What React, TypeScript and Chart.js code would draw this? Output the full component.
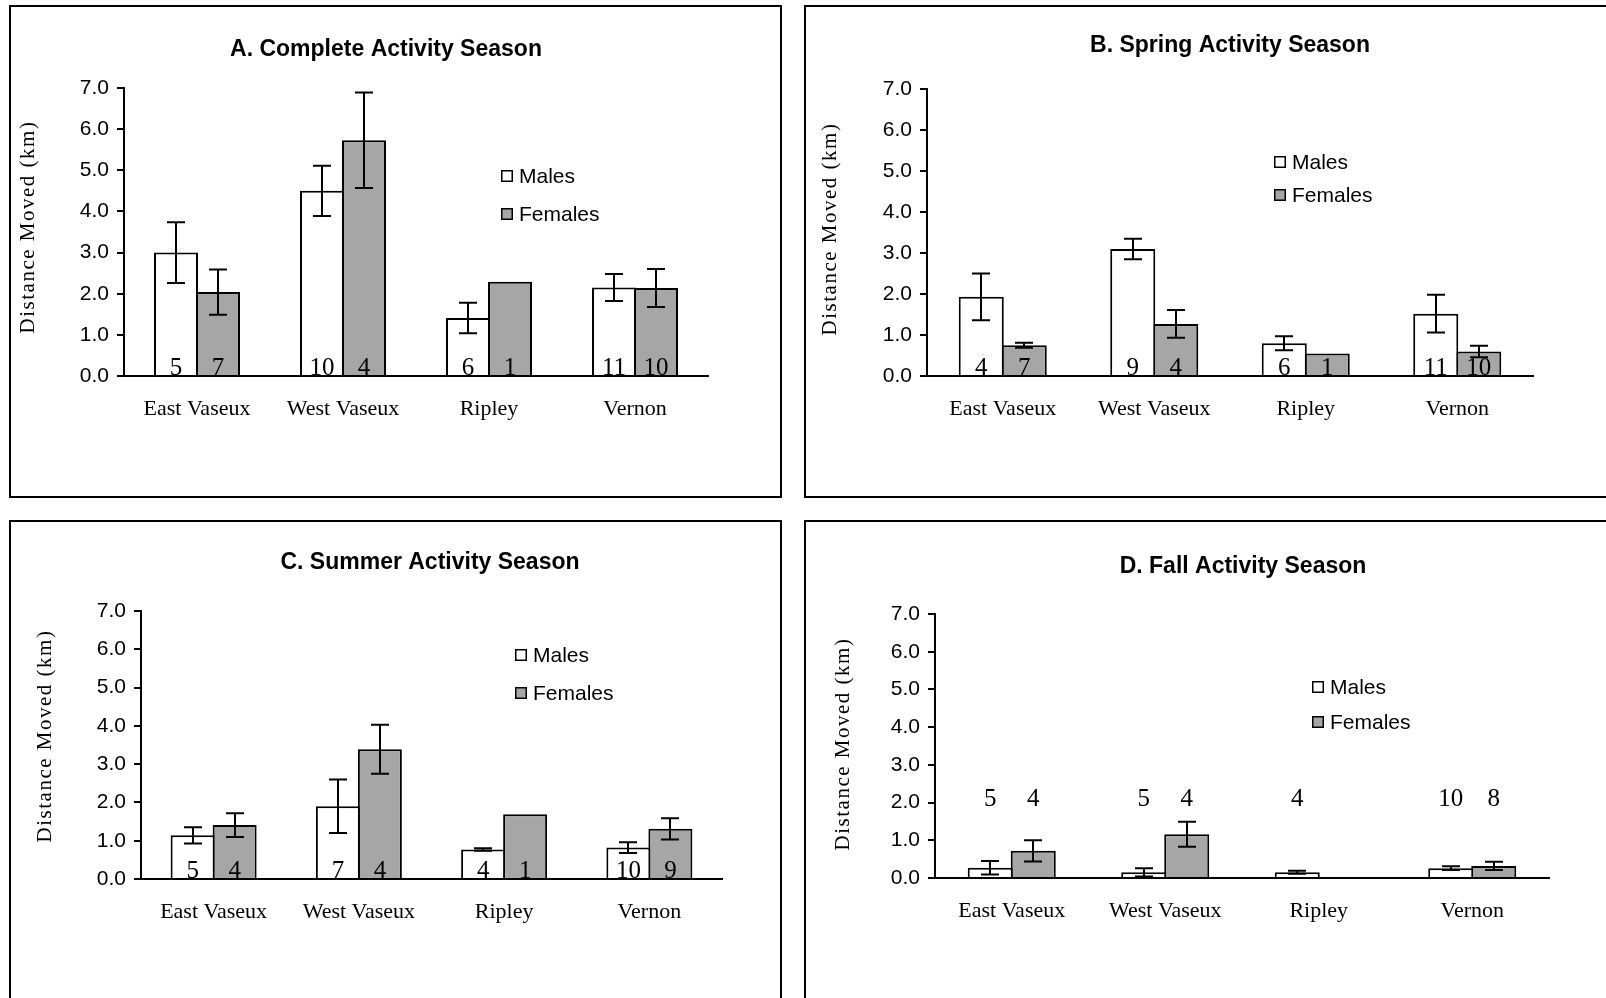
import React, { useEffect, useRef } from "react";
import { Chart, registerables } from "chart.js";

Chart.register(...registerables);

// ---- shared labels ----
const sites = ["East Vaseux", "West Vaseux", "Ripley", "Vernon"];
const seriesNames = ["Males", "Females"];
const yTickLabels = ["0.0", "1.0", "2.0", "3.0", "4.0", "5.0", "6.0", "7.0"];
const yAxisTitle = "Distance Moved (km)";

// ---- A. Complete activity season ----
const completeMales = [3.0, 4.5, 1.41, 2.15];
const completeMalesErr = [0.74, 0.61, 0.37, 0.33];
const completeMalesN = [5, 10, 6, 11];
const completeFemales = [2.04, 5.73, 2.29, 2.14];
const completeFemalesErr = [0.55, 1.16, 0, 0.46];
const completeFemalesN = [7, 4, 1, 10];

// ---- B. Spring activity season ----
const springMales = [1.93, 3.1, 0.8, 1.52];
const springMalesErr = [0.57, 0.25, 0.17, 0.46];
const springMalesN = [4, 9, 6, 11];
const springFemales = [0.75, 1.27, 0.55, 0.6];
const springFemalesErr = [0.06, 0.34, 0, 0.14];
const springFemalesN = [7, 4, 1, 10];

// ---- C. Summer activity season ----
const summerMales = [1.14, 1.9, 0.77, 0.82];
const summerMalesErr = [0.21, 0.7, 0.03, 0.14];
const summerMalesN = [5, 7, 4, 10];
const summerFemales = [1.41, 3.39, 1.69, 1.31];
const summerFemalesErr = [0.31, 0.64, 0, 0.28];
const summerFemalesN = [4, 4, 1, 9];

// ---- D. Fall activity season ----
const fallMales = [0.27, 0.15, 0.15, 0.26];
const fallMalesErr = [0.18, 0.11, 0.04, 0.05];
const fallMalesN = [5, 5, 4, 10];
const fallFemales = [0.72, 1.16, null, 0.32];
const fallFemalesErr = [0.28, 0.33, 0, 0.11];
const fallFemalesN = [4, 4, null, 8];

const SANS = '"Liberation Sans", Arial, sans-serif';
const SERIF = '"Liberation Serif", "Times New Roman", serif';
const INK = "#000000";
const MALE_FILL = "#ffffff";
const FEMALE_FILL = "#a6a6a6";
const PAGE_W = 1606;
const PAGE_H = 998;

type Series = { values: (number | null)[]; err: number[]; n: (number | null)[] };
type PanelSpec = {
  title: string;
  males: Series;
  females: Series;
  box: { left: number; top: number; width: number; height: number };
  axisX: number;
  plotTop: number;
  axisY: number;
  plotRight: number;
  titleAt: [number, number];
  yTitleAt: [number, number];
  legendAt: [number, number, number];
  catPct: number;
  nBaseline: number | null;
};

const panels: PanelSpec[] = [
  {
    title: "A. Complete Activity Season",
    males: { values: completeMales, err: completeMalesErr, n: completeMalesN },
    females: { values: completeFemales, err: completeFemalesErr, n: completeFemalesN },
    box: { left: 9, top: 5, width: 773, height: 493 },
    axisX: 124,
    plotTop: 88,
    axisY: 376,
    plotRight: 708,
    titleAt: [386, 50],
    yTitleAt: [28, 227],
    legendAt: [501, 176, 214],
    catPct: 84 / 146,
    nBaseline: null,
  },
  {
    title: "B. Spring Activity Season",
    males: { values: springMales, err: springMalesErr, n: springMalesN },
    females: { values: springFemales, err: springFemalesErr, n: springFemalesN },
    box: { left: 804, top: 5, width: 820, height: 493 },
    axisX: 927,
    plotTop: 89,
    axisY: 376,
    plotRight: 1533,
    titleAt: [1230, 46],
    yTitleAt: [830, 229],
    legendAt: [1274, 162, 195],
    catPct: 86 / 151.5,
    nBaseline: null,
  },
  {
    title: "C. Summer Activity Season",
    males: { values: summerMales, err: summerMalesErr, n: summerMalesN },
    females: { values: summerFemales, err: summerFemalesErr, n: summerFemalesN },
    box: { left: 9, top: 520, width: 773, height: 500 },
    axisX: 141,
    plotTop: 611,
    axisY: 879,
    plotRight: 722,
    titleAt: [430, 563],
    yTitleAt: [45, 736],
    legendAt: [515, 655, 693],
    catPct: 84 / 145.25,
    nBaseline: null,
  },
  {
    title: "D. Fall Activity Season",
    males: { values: fallMales, err: fallMalesErr, n: fallMalesN },
    females: { values: fallFemales, err: fallFemalesErr, n: fallFemalesN },
    box: { left: 804, top: 520, width: 820, height: 500 },
    axisX: 935,
    plotTop: 614,
    axisY: 878,
    plotRight: 1549,
    titleAt: [1243, 567],
    yTitleAt: [843, 744],
    legendAt: [1312, 687, 722],
    catPct: 86 / 153.5,
    nBaseline: 806,
  },
];

// Draws error bars, sample sizes, panel title, legend and the rotated y title.
function makeOverlay(spec: PanelSpec) {
  const ox = spec.box.left;
  const oy = spec.box.top;
  const series = [spec.males, spec.females];
  const fills = [MALE_FILL, FEMALE_FILL];
  return {
    id: "panelOverlay",
    afterDatasetsDraw(chart: any) {
      const { ctx } = chart;
      const y = chart.scales.y;
      ctx.save();
      ctx.strokeStyle = INK;
      ctx.lineWidth = 2;
      series.forEach((s, di) => {
        const meta = chart.getDatasetMeta(di);
        meta.data.forEach((el: any, i: number) => {
          const v = s.values[i];
          const e = s.err[i];
          if (v == null || !e) return;
          const yt = y.getPixelForValue(v + e);
          const yb = y.getPixelForValue(Math.max(0, v - e));
          const x = Math.round(el.x);
          ctx.beginPath();
          ctx.moveTo(x, yt);
          ctx.lineTo(x, yb);
          ctx.moveTo(x - 9, yt);
          ctx.lineTo(x + 9, yt);
          ctx.moveTo(x - 9, yb);
          ctx.lineTo(x + 9, yb);
          ctx.stroke();
        });
      });
      // sample sizes
      ctx.fillStyle = INK;
      ctx.font = `25px ${SERIF}`;
      ctx.textAlign = "center";
      ctx.textBaseline = "alphabetic";
      const baseY = spec.nBaseline != null ? spec.nBaseline - oy : y.getPixelForValue(0) - 1;
      series.forEach((s, di) => {
        const meta = chart.getDatasetMeta(di);
        meta.data.forEach((el: any, i: number) => {
          const n = s.n[i];
          if (n == null) return;
          ctx.fillText(String(n), el.x, baseY);
        });
      });
      ctx.restore();
    },
    afterDraw(chart: any) {
      const { ctx } = chart;
      ctx.save();
      ctx.fillStyle = INK;
      // title
      ctx.font = `bold 23px ${SANS}`;
      ctx.textAlign = "center";
      ctx.textBaseline = "middle";
      ctx.fillText(spec.title, spec.titleAt[0] - ox, spec.titleAt[1] - oy);
      // legend
      ctx.font = `21px ${SANS}`;
      ctx.textAlign = "left";
      const [lx, ly1, ly2] = spec.legendAt;
      [ly1, ly2].forEach((ly, k) => {
        const bx = lx - ox;
        const by = ly - oy - 6;
        ctx.fillStyle = fills[k];
        ctx.fillRect(bx, by, 12, 12);
        ctx.strokeStyle = INK;
        ctx.lineWidth = 1.5;
        ctx.strokeRect(bx + 0.75, by + 0.75, 10.5, 10.5);
        ctx.fillStyle = INK;
        ctx.fillText(seriesNames[k], bx + 18, ly - oy + 1);
      });
      // y axis title
      ctx.translate(spec.yTitleAt[0] - ox, spec.yTitleAt[1] - oy);
      ctx.rotate(-Math.PI / 2);
      ctx.font = `21px ${SERIF}`;
      (ctx as any).letterSpacing = "1.5px";
      ctx.textAlign = "center";
      ctx.textBaseline = "middle";
      ctx.fillText(yAxisTitle, 0, 0);
      (ctx as any).letterSpacing = "0px";
      ctx.restore();
    },
  };
}

function PanelChart({ spec }: { spec: PanelSpec }) {
  const ref = useRef<HTMLCanvasElement | null>(null);
  const { left, top, width, height } = spec.box;
  const cw = Math.min(width, PAGE_W - left);
  const ch = Math.min(height, PAGE_H - top);

  useEffect(() => {
    const canvas = ref.current;
    if (!canvas) return;
    const barPct = 44 / 42;
    const chart = new Chart(canvas, {
      type: "bar",
      data: {
        labels: sites,
        datasets: [
          {
            label: seriesNames[0],
            data: spec.males.values,
            backgroundColor: MALE_FILL,
            borderColor: INK,
            borderWidth: 2,
            categoryPercentage: spec.catPct,
            barPercentage: barPct,
          },
          {
            label: seriesNames[1],
            data: spec.females.values,
            backgroundColor: FEMALE_FILL,
            borderColor: INK,
            borderWidth: 2,
            categoryPercentage: spec.catPct,
            barPercentage: barPct,
          },
        ],
      },
      options: {
        responsive: false,
        animation: false,
        devicePixelRatio: 1,
        events: [],
        layout: {
          autoPadding: false,
          padding: {
            left: 0,
            top: spec.plotTop - top,
            right: cw - (spec.plotRight - left),
            bottom: 0,
          },
        },
        plugins: {
          legend: { display: false },
          title: { display: false },
          tooltip: { enabled: false },
        },
        scales: {
          x: {
            z: 1,
            grid: { display: false },
            border: { display: true, color: INK, width: 2 },
            ticks: {
              color: INK,
              font: { family: SERIF, size: 22 },
              padding: 12,
              maxRotation: 0,
              autoSkip: false,
            },
            afterFit: (s: any) => {
              s.height = ch - (spec.axisY - top);
            },
          },
          y: {
            min: 0,
            max: 7,
            border: { display: true, color: INK, width: 2 },
            grid: {
              drawOnChartArea: false,
              drawTicks: true,
              tickLength: 7,
              color: INK,
              lineWidth: 2,
            },
            ticks: {
              stepSize: 1,
              color: INK,
              font: { family: SANS, size: 21 },
              padding: 8,
              callback: (v: any) => yTickLabels[Math.round(Number(v))],
            },
            afterFit: (s: any) => {
              s.width = spec.axisX - left;
            },
          },
        },
      },
      plugins: [makeOverlay(spec)],
    } as any);
    return () => chart.destroy();
  }, [spec]);

  return (
    <>
      <div
        style={{
          position: "absolute",
          left,
          top,
          width,
          height,
          border: "2px solid #000",
          boxSizing: "border-box",
        }}
      />
      <canvas
        ref={ref}
        width={cw}
        height={ch}
        style={{ position: "absolute", left, top, width: cw, height: ch }}
      />
    </>
  );
}

export default function App() {
  return (
    <div
      style={{
        position: "absolute",
        left: 0,
        top: 0,
        width: PAGE_W,
        height: PAGE_H,
        overflow: "hidden",
        background: "#ffffff",
      }}
    >
      {panels.map((p) => (
        <PanelChart key={p.title} spec={p} />
      ))}
    </div>
  );
}
